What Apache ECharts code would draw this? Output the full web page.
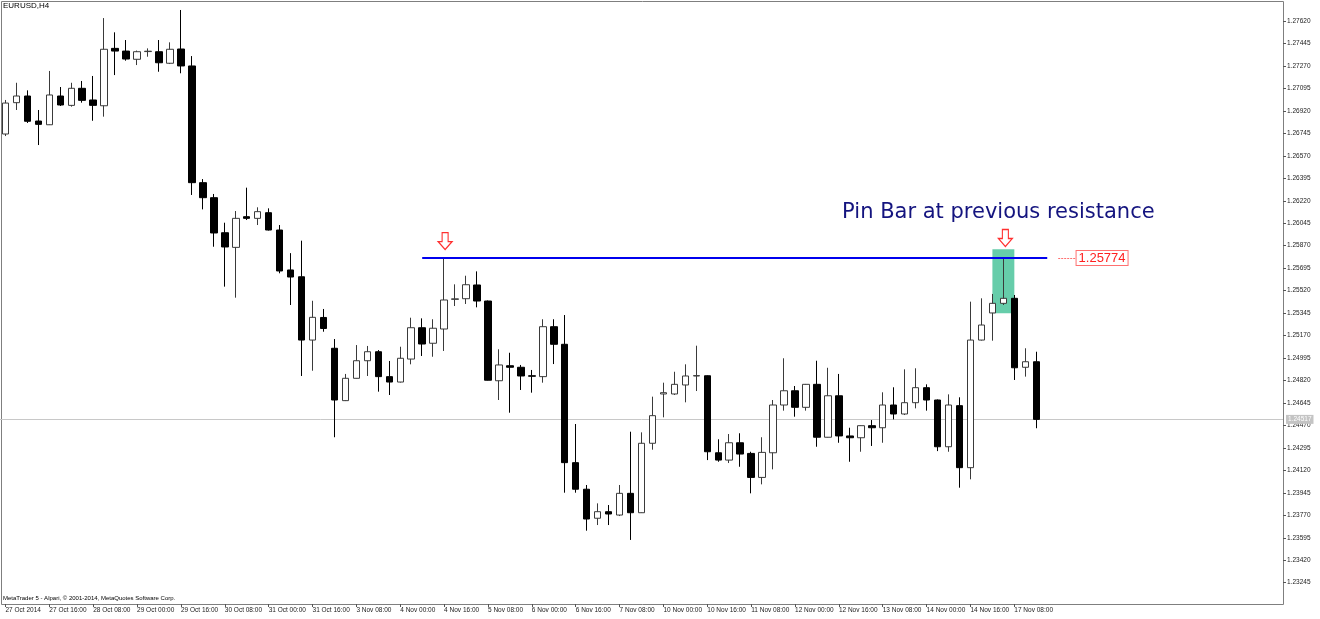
<!DOCTYPE html>
<html><head><meta charset="utf-8">
<script src="https://cdn.jsdelivr.net/npm/echarts@6/dist/echarts.min.js"></script>
<style>html,body{margin:0;padding:0;background:#fff}#c{width:1320px;height:619px}</style>
</head><body><div id="c"></div>
<script>
// x tick labels, one every 4 H4 bars starting at bar 0
const xTickLabels = ['27 Oct 2014','27 Oct 16:00','28 Oct 08:00','29 Oct 00:00','29 Oct 16:00','30 Oct 08:00','31 Oct 00:00','31 Oct 16:00','3 Nov 08:00','4 Nov 00:00','4 Nov 16:00','5 Nov 08:00','6 Nov 00:00','6 Nov 16:00','7 Nov 08:00','10 Nov 00:00','10 Nov 16:00','11 Nov 08:00','12 Nov 00:00','12 Nov 16:00','13 Nov 08:00','14 Nov 00:00','14 Nov 16:00','17 Nov 08:00'];
const slotCount = 117; // bar slots visible incl. empty space on the right
// [open, close, low, high]
const candles = [
[1.26740,1.26981,1.26724,1.27005],[1.26984,1.27036,1.26927,1.27139],[1.27036,1.26839,1.26826,1.27080],[1.26841,1.26815,1.26654,1.26927],
[1.26812,1.27044,1.26810,1.27231],[1.27036,1.26966,1.26958,1.27106],[1.26963,1.27096,1.26953,1.27139],[1.27096,1.27002,1.26984,1.27153],
[1.27005,1.26963,1.26843,1.27192],[1.26960,1.27400,1.26875,1.27643],[1.27407,1.27386,1.27199,1.27532],[1.27386,1.27324,1.27311,1.27472],
[1.27322,1.27381,1.27277,1.27390],[1.27382,1.27385,1.27342,1.27407],[1.27381,1.27295,1.27225,1.27472],[1.27291,1.27400,1.27285,1.27454],
[1.27402,1.27270,1.27213,1.27706],[1.27270,1.26361,1.26265,1.27347],[1.26361,1.26244,1.26153,1.26389],[1.26244,1.25969,1.25862,1.26273],
[1.25971,1.25860,1.25551,1.26049],[1.25857,1.26083,1.25465,1.26140],[1.26096,1.26083,1.26070,1.26322],[1.26083,1.26135,1.26031,1.26169],
[1.26127,1.25992,1.25988,1.26161],[1.25992,1.25673,1.25655,1.26031],[1.25681,1.25626,1.25408,1.25812],[1.25628,1.25135,1.24855,1.25909],
[1.25135,1.25312,1.24896,1.25441],[1.25311,1.25225,1.25200,1.25377],[1.25071,1.24668,1.24378,1.25143],[1.24663,1.24837,1.24660,1.24871],
[1.24837,1.24974,1.24835,1.25096],[1.24974,1.25044,1.24855,1.25089],[1.25044,1.24850,1.24733,1.25057],[1.24850,1.24808,1.24707,1.24972],
[1.24808,1.24993,1.24804,1.25083],[1.24987,1.25231,1.24946,1.25309],[1.25231,1.25104,1.25011,1.25304],[1.25110,1.25227,1.25005,1.25297],
[1.25221,1.25447,1.25050,1.25774],[1.25452,1.25456,1.25400,1.25569],[1.25457,1.25566,1.25416,1.25636],[1.25564,1.25439,1.25390,1.25670],
[1.25439,1.24822,1.24820,1.25443],[1.24818,1.24941,1.24668,1.25063],[1.24935,1.24923,1.24569,1.25036],[1.24923,1.24855,1.24746,1.24941],
[1.24857,1.24853,1.24725,1.24902],[1.24850,1.25239,1.24803,1.25297],[1.25239,1.25102,1.24948,1.25297],[1.25102,1.24180,1.23946,1.25330],
[1.24180,1.23973,1.23946,1.24481],[1.23973,1.23741,1.23650,1.24006],[1.23747,1.23798,1.23694,1.23863],[1.23798,1.23780,1.23694,1.23850],
[1.23772,1.23941,1.23764,1.24006],[1.23941,1.23790,1.23578,1.24421],[1.23790,1.24331,1.23788,1.24416],[1.24331,1.24546,1.24281,1.24694],
[1.24715,1.24725,1.24533,1.24803],[1.24715,1.24790,1.24707,1.24888],[1.24785,1.24855,1.24650,1.24946],[1.24855,1.24858,1.24738,1.25091],
[1.24857,1.24265,1.24200,1.24860],[1.24257,1.24200,1.24187,1.24362],[1.24200,1.24335,1.24177,1.24403],[1.24335,1.24247,1.24148,1.24409],
[1.24252,1.24065,1.23941,1.24265],[1.24065,1.24260,1.24011,1.24378],[1.24257,1.24629,1.24128,1.24668],[1.24629,1.24740,1.24585,1.24993],
[1.24740,1.24611,1.24538,1.24777],[1.24611,1.24790,1.24585,1.24793],[1.24790,1.24378,1.24304,1.24974],[1.24378,1.24701,1.24376,1.24919],
[1.24701,1.24388,1.24335,1.24871],[1.24388,1.24374,1.24187,1.24452],[1.24374,1.24468,1.24265,1.24470],[1.24468,1.24452,1.24310,1.24512],
[1.24452,1.24629,1.24335,1.24728],[1.24629,1.24559,1.24517,1.24767],[1.24559,1.24647,1.24551,1.24907],[1.24647,1.24764,1.24603,1.24915],
[1.24764,1.24668,1.24585,1.24790],[1.24668,1.24304,1.24270,1.24672],[1.24304,1.24629,1.24265,1.24712],[1.24624,1.24141,1.23985,1.24689],
[1.24141,1.25135,1.24050,1.25434],[1.25135,1.25252,1.25131,1.25460],[1.25346,1.25421,1.25130,1.25494],[1.25421,1.25460,1.25408,1.25774],
[1.25460,1.24919,1.24824,1.25486],[1.24923,1.24966,1.24850,1.25071],[1.24966,1.24517,1.24448,1.25044]
];
const yTickLabels = ['1.27620','1.27445','1.27270','1.27095','1.26920','1.26745','1.26570','1.26395','1.26220','1.26045','1.25870','1.25695','1.25520','1.25345','1.25170','1.24995','1.24820','1.24645','1.24470','1.24295','1.24120','1.23945','1.23770','1.23595','1.23420','1.23245'];
const resistance = 1.25774;
const lastPrice = 1.24517;
const resistanceLineFrom = 38, resistanceLineTo = 95;
const pinBarIndex = 91, firstTouchIndex = 40;
const arrowPrices = [1.25906, 1.25930];
const highlightBox = [1.25842, 1.25344];
const annotationText = 'Pin Bar at previous resistance';
const annotationPrice = 1.26132;
const priceBoxIndex = 100;

const categories = [];
for (let i = 0; i < slotCount; i++) categories.push(String(i));
const isTick = (i) => i % 4 === 0 && (i / 4) < xTickLabels.length;
const yTicks = yTickLabels.map(Number);
const FONT = 'Liberation Sans';
const arrowPath = 'path://M4,0 L10,0 L10,9 L14,9 L7,17 L0,9 L4,9 Z';

const chart = echarts.init(document.getElementById('c'), null, {renderer: 'canvas'});
chart.setOption({
  animation: false,
  backgroundColor: '#ffffff',
  textStyle: {fontFamily: FONT},
  title: [
    {text: 'EURUSD,H4', left: 3, top: 2, padding: 0, textStyle: {fontSize: 8, fontWeight: 'normal', color: '#000', fontFamily: FONT}},
    {text: 'MetaTrader 5 - Alpari, © 2001-2014, MetaQuotes Software Corp.', left: 3, top: 595, padding: 0, textStyle: {fontSize: 6, fontWeight: 'normal', color: '#000', fontFamily: FONT}}
  ],
  graphic: [{type: 'rect', silent: true, z: 0, shape: {x: 1.5, y: 1.5, width: 1282, height: 603}, style: {fill: null, stroke: '#7f7f7f', lineWidth: 1}}],
  grid: {left: -4, right: 37, top: 1, bottom: 15, containLabel: false},
  xAxis: {
    type: 'category', data: categories, boundaryGap: true,
    axisLine: {show: false},
    axisTick: {show: true, alignWithLabel: true, length: 3, interval: (i) => isTick(i), lineStyle: {color: '#555'}},
    axisLabel: {interval: (i) => isTick(i), formatter: (v, i) => isTick(i) ? xTickLabels[i / 4] : '', align: 'left', fontSize: 6.5, color: '#222', margin: 3, fontFamily: FONT},
    splitLine: {show: false}
  },
  yAxis: {
    type: 'value', position: 'right', min: 1.23079, max: 1.27776,
    axisLine: {show: false}, splitLine: {show: false},
    axisTick: {show: true, customValues: yTicks, length: 3, lineStyle: {color: '#555'}},
    axisLabel: {customValues: yTicks, formatter: (v) => v.toFixed(5), fontSize: 6.5, color: '#222', margin: 4, fontFamily: FONT}
  },
  series: [
    {
      type: 'line', data: [], silent: true, z: 1,
      markArea: {
        z: 1, silent: true,
        itemStyle: {color: '#66cdaa'},
        data: [[{coord: [pinBarIndex - 1, highlightBox[0]]}, {coord: [pinBarIndex + 1, highlightBox[1]]}]]
      },
      markLine: {
        z: 5, silent: true, symbol: 'none', label: {show: false}, precision: 5,
        emphasis: {disabled: true},
        data: [
          [{coord: [resistanceLineFrom, resistance], lineStyle: {color: '#0000ee', width: 2, type: 'solid'}},
           {coord: [resistanceLineTo, resistance]}],
          [{coord: [resistanceLineTo + 1, resistance], lineStyle: {color: '#ff7070', width: 1, type: [2, 1]}},
           {coord: [resistanceLineTo + 3, resistance]}]
        ]
      }
    },
    {
      type: 'candlestick', data: candles.map(c => [c[0], c[1], c[2], c[3]]), z: 2,
      barWidth: 7,
      itemStyle: {color: '#ffffff', color0: '#000000', borderColor: '#3a3a3a', borderColor0: '#000000', borderWidth: 1},
      markLine: {
        z: 1, silent: true, symbol: 'none', precision: 5,
        lineStyle: {color: '#c8c8c8', type: 'solid', width: 1},
        label: {show: true, position: 'end', distance: 3, formatter: () => lastPrice.toFixed(5), backgroundColor: '#c4c4c4', color: '#fff', fontSize: 6.5, padding: [1, 2], fontFamily: FONT},
        emphasis: {disabled: true},
        data: [{yAxis: lastPrice}]
      },
      markPoint: {
        z: 6, silent: true,
        data: [
          {coord: [firstTouchIndex, arrowPrices[0]], symbol: arrowPath, symbolSize: [14, 17], symbolOffset: [1, 0],
           itemStyle: {color: '#ffffff', borderColor: '#ff3030', borderWidth: 1.2}, label: {show: false}},
          {coord: [pinBarIndex, arrowPrices[1]], symbol: arrowPath, symbolSize: [14, 17], symbolOffset: [2, 0],
           itemStyle: {color: '#ffffff', borderColor: '#ff3030', borderWidth: 1.2}, label: {show: false}},
          {coord: [pinBarIndex, annotationPrice], symbol: 'rect', symbolSize: 1, itemStyle: {color: 'rgba(0,0,0,0)'},
           label: {show: true, position: 'inside', offset: [-5, 0], formatter: annotationText, color: '#14147f', fontSize: 21, fontFamily: 'DejaVu Sans'}},
          {coord: [priceBoxIndex, resistance], symbol: 'rect', symbolSize: 1, itemStyle: {color: 'rgba(0,0,0,0)'},
           label: {show: true, position: 'inside', formatter: () => resistance.toFixed(5), color: '#ff2020', fontSize: 13, fontFamily: FONT,
                   backgroundColor: '#ffffff', borderColor: '#ff7070', borderWidth: 1, padding: [1, 2, 0, 2]}}
        ]
      }
    }
  ]
});
</script>
</body></html>
